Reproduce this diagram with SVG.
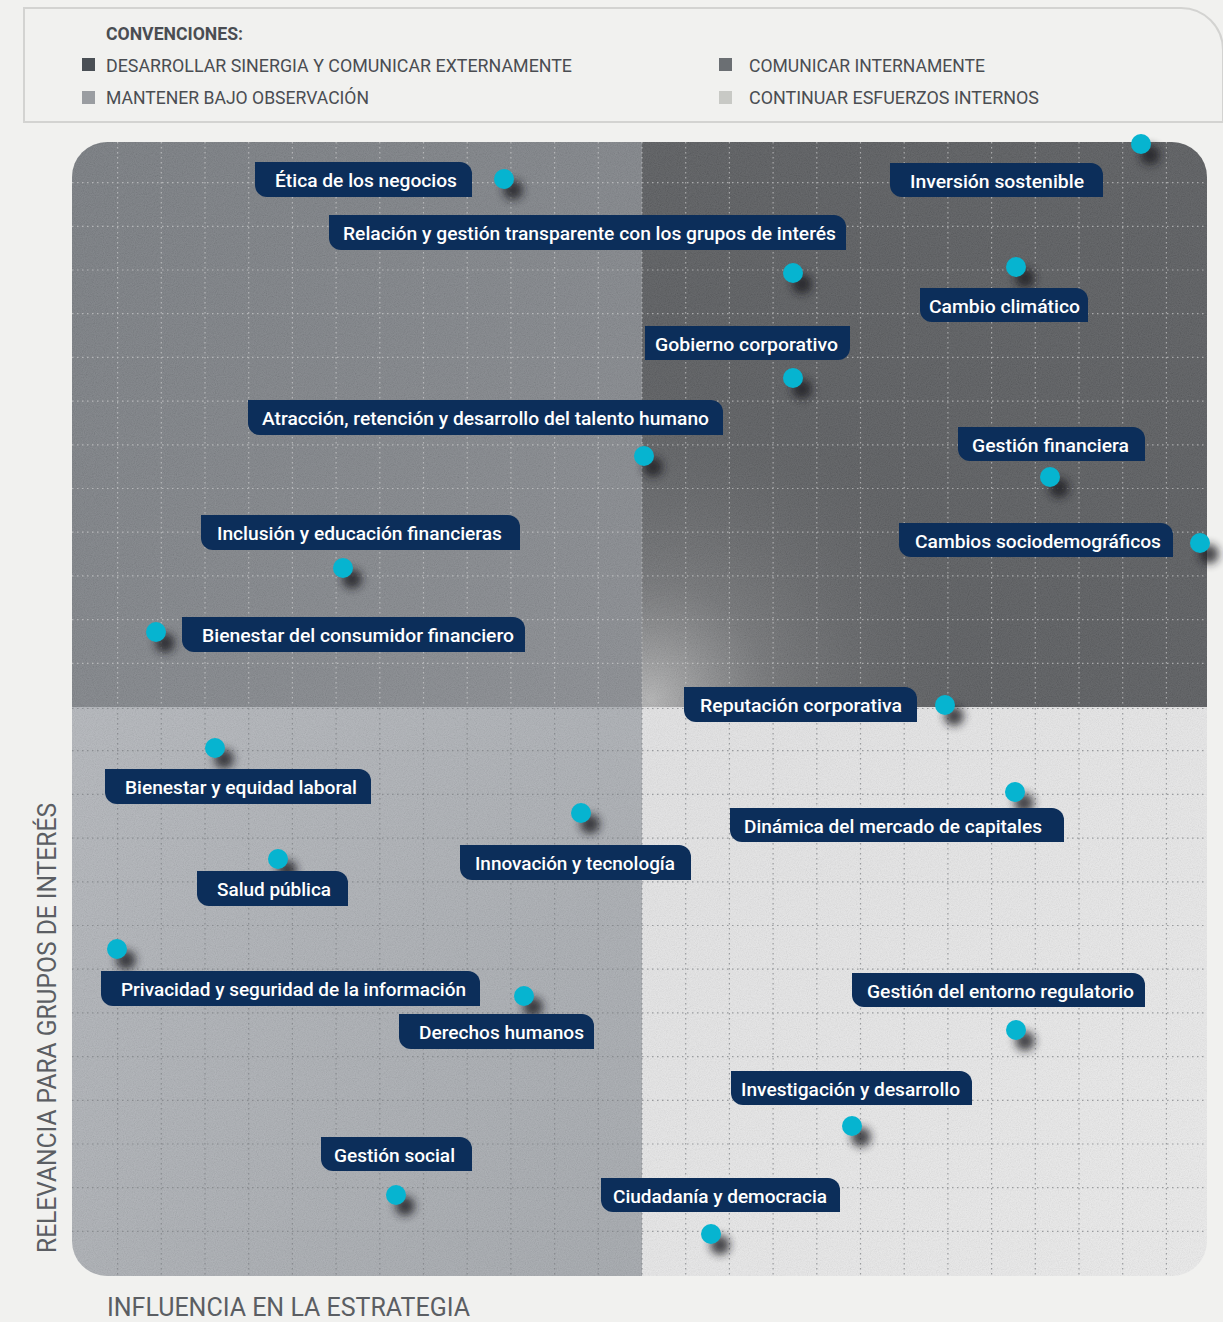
<svg xmlns="http://www.w3.org/2000/svg" width="1223" height="1322" viewBox="0 0 1223 1322">
<style>
.leg{font-family:Roboto,"Liberation Sans",sans-serif;font-size:18px;fill:#4a4d52;}
.legb{font-weight:700;}
.lbl{fill:#0c2e5a;}
.lt{font-family:Roboto,"Liberation Sans",sans-serif;font-size:18px;font-weight:500;fill:#ffffff;}
.dot{fill:#06b4d0;}
.sh{fill:#1e1f22;opacity:0.8;filter:url(#blur);}
.axis{font-family:Roboto,"Liberation Sans",sans-serif;font-size:26px;fill:#5b5e63;}
.gl{fill:none;stroke:#d8d8d8;stroke-width:1.2;stroke-dasharray:1.5 3.5;opacity:0.6;}
.gd{fill:none;stroke:#7a7d82;stroke-width:1.2;stroke-dasharray:1.5 3.5;opacity:0.7;}
</style>
<defs>
<filter id="blur" x="-100%" y="-100%" width="300%" height="300%"><feGaussianBlur stdDeviation="4"/></filter>
<filter id="noise" x="0" y="0" width="100%" height="100%">
<feTurbulence type="fractalNoise" baseFrequency="0.9" numOctaves="2" stitchTiles="stitch"/>
<feColorMatrix type="matrix" values="1 0 0 0 0  1 0 0 0 0  1 0 0 0 0  0 0 0 0 0.12"/>
</filter>
<clipPath id="chart"><rect x="72" y="142" width="1135" height="1134" rx="35"/></clipPath>
<linearGradient id="gTL" x1="0" y1="0" x2="1" y2="1"><stop offset="0" stop-color="#74787d"/><stop offset="1" stop-color="#878a8f"/></linearGradient>
<linearGradient id="gBL" x1="0" y1="0" x2="1" y2="1"><stop offset="0" stop-color="#b2b5ba"/><stop offset="1" stop-color="#a2a6ab"/></linearGradient>
<linearGradient id="gBR" x1="0" y1="0" x2="1" y2="1"><stop offset="0" stop-color="#e2e2e3"/><stop offset="1" stop-color="#ebebeb"/></linearGradient>
<radialGradient id="glow" cx="650" cy="700" r="340" gradientUnits="userSpaceOnUse"><stop offset="0" stop-color="#c2c2c2" stop-opacity="0.85"/><stop offset="0.35" stop-color="#8e8f91" stop-opacity="0.45"/><stop offset="1" stop-color="#55575a" stop-opacity="0"/></radialGradient>
</defs>
<rect x="0" y="0" width="1223" height="1322" fill="#f1f1ef"/>

<g id="legend">
<path d="M24 8 H1181 A42 42 0 0 1 1223 50 V122 H24 Z" fill="#f1f1ef" stroke="#d3d3d1" stroke-width="2"/>
<text class="leg legb" x="106" y="40" textLength="137" lengthAdjust="spacingAndGlyphs">CONVENCIONES:</text>
<rect x="82" y="58" width="13" height="13" fill="#4a4f55"/>
<text class="leg" x="106" y="72" textLength="466" lengthAdjust="spacingAndGlyphs">DESARROLLAR SINERGIA Y COMUNICAR EXTERNAMENTE</text>
<rect x="82" y="91" width="13" height="13" fill="#9a9da1"/>
<text class="leg" x="106" y="104" textLength="263" lengthAdjust="spacingAndGlyphs">MANTENER BAJO OBSERVACIÓN</text>
<rect x="719" y="58" width="13" height="13" fill="#6b6f73"/>
<text class="leg" x="749" y="72" textLength="236" lengthAdjust="spacingAndGlyphs">COMUNICAR INTERNAMENTE</text>
<rect x="719" y="91" width="13" height="13" fill="#c8c9c5"/>
<text class="leg" x="749" y="104" textLength="290" lengthAdjust="spacingAndGlyphs">CONTINUAR ESFUERZOS INTERNOS</text>
</g>

<g id="chart-bg" clip-path="url(#chart)">
<rect x="72" y="142" width="570" height="565" fill="url(#gTL)"/>
<rect x="642" y="142" width="565" height="565" fill="#56585b"/>
<rect x="642" y="142" width="565" height="565" fill="url(#glow)"/>
<rect x="72" y="707" width="570" height="569" fill="url(#gBL)"/>
<rect x="642" y="707" width="565" height="569" fill="url(#gBR)"/>
<rect x="72" y="142" width="1135" height="1134" filter="url(#noise)"/>
<path class="gl" d="M117.6 142V707M161.3 142V707M205 142V707M248.7 142V707M292.4 142V707M336.1 142V707M379.8 142V707M423.5 142V707M467.2 142V707M510.9 142V707M554.6 142V707M598.3 142V707M642 142V707M685.7 142V707M729.4 142V707M773.1 142V707M816.8 142V707M860.5 142V707M904.2 142V707M947.9 142V707M991.6 142V707M1035.3 142V707M1079 142V707M1122.7 142V707M1166.4 142V707M72 182.6H1207M72 226.3H1207M72 270H1207M72 313.7H1207M72 357.4H1207M72 401.1H1207M72 444.8H1207M72 488.5H1207M72 532.2H1207M72 575.9H1207M72 619.6H1207M72 663.3H1207"/>
<path class="gd" d="M117.6 708V1276M161.3 708V1276M205 708V1276M248.7 708V1276M292.4 708V1276M336.1 708V1276M379.8 708V1276M423.5 708V1276M467.2 708V1276M510.9 708V1276M554.6 708V1276M598.3 708V1276M642 708V1276M685.7 708V1276M729.4 708V1276M773.1 708V1276M816.8 708V1276M860.5 708V1276M904.2 708V1276M947.9 708V1276M991.6 708V1276M1035.3 708V1276M1079 708V1276M1122.7 708V1276M1166.4 708V1276M72 708.5H1207M72 750.7H1207M72 794.4H1207M72 838.1H1207M72 881.8H1207M72 925.5H1207M72 969.2H1207M72 1012.9H1207M72 1056.6H1207M72 1100.3H1207M72 1144H1207M72 1187.7H1207M72 1231.4H1207"/>
</g>

<g id="axes">
<text class="axis" x="107" y="1316" textLength="363" lengthAdjust="spacingAndGlyphs">INFLUENCIA  EN LA ESTRATEGIA</text>
<text class="axis" transform="translate(56 1253) rotate(-90)" x="0" y="0" textLength="450" lengthAdjust="spacingAndGlyphs">RELEVANCIA PARA GRUPOS DE INTERÉS</text>
</g>

<g id="connectors"></g>

<g id="nodes">
<g id="n01"><circle class="sh" cx="513" cy="190" r="10"/><path class="lbl" d="M255 162H460A12 12 0 0 1 472 174V197H267A12 12 0 0 1 255 185Z"/><circle class="dot" cx="504" cy="179" r="10"/><text class="lt" x="275" y="187" textLength="182" lengthAdjust="spacingAndGlyphs">Ética de los negocios</text></g>
<g id="n02"><circle class="sh" cx="802" cy="284" r="10"/><path class="lbl" d="M329 215H834A12 12 0 0 1 846 227V250H341A12 12 0 0 1 329 238Z"/><circle class="dot" cx="793" cy="273" r="10"/><text class="lt" x="343" y="240" textLength="493" lengthAdjust="spacingAndGlyphs">Relación y gestión transparente con los grupos de interés</text></g>
<g id="n03"><circle class="sh" cx="1150" cy="155" r="10"/><path class="lbl" d="M890 163H1091A12 12 0 0 1 1103 175V197H902A12 12 0 0 1 890 185Z"/><circle class="dot" cx="1141" cy="144" r="10"/><text class="lt" x="910" y="188" textLength="174" lengthAdjust="spacingAndGlyphs">Inversión sostenible</text></g>
<g id="n04"><circle class="sh" cx="1025" cy="278" r="10"/><path class="lbl" d="M920 288H1076A12 12 0 0 1 1088 300V322H932A12 12 0 0 1 920 310Z"/><circle class="dot" cx="1016" cy="267" r="10"/><text class="lt" x="929" y="313" textLength="151" lengthAdjust="spacingAndGlyphs">Cambio climático</text></g>
<g id="n05"><circle class="sh" cx="802" cy="389" r="10"/><path class="lbl" d="M645 326H850V348A12 12 0 0 1 838 360H645Z"/><circle class="dot" cx="793" cy="378" r="10"/><text class="lt" x="655" y="351" textLength="183" lengthAdjust="spacingAndGlyphs">Gobierno corporativo</text></g>
<g id="n06"><circle class="sh" cx="653" cy="467" r="10"/><path class="lbl" d="M248 400H711A12 12 0 0 1 723 412V435H260A12 12 0 0 1 248 423Z"/><circle class="dot" cx="644" cy="456" r="10"/><text class="lt" x="262" y="425" textLength="447" lengthAdjust="spacingAndGlyphs">Atracción, retención y desarrollo del talento humano</text></g>
<g id="n07"><circle class="sh" cx="1059" cy="488" r="10"/><path class="lbl" d="M958 427H1133A12 12 0 0 1 1145 439V461H970A12 12 0 0 1 958 449Z"/><circle class="dot" cx="1050" cy="477" r="10"/><text class="lt" x="972" y="452" textLength="157" lengthAdjust="spacingAndGlyphs">Gestión financiera</text></g>
<g id="n08"><circle class="sh" cx="352" cy="579" r="10"/><path class="lbl" d="M201 515H508A12 12 0 0 1 520 527V550H213A12 12 0 0 1 201 538Z"/><circle class="dot" cx="343" cy="568" r="10"/><text class="lt" x="217" y="540" textLength="285" lengthAdjust="spacingAndGlyphs">Inclusión y educación financieras</text></g>
<g id="n09"><circle class="sh" cx="1209" cy="554" r="10"/><path class="lbl" d="M899 523H1161A12 12 0 0 1 1173 535V557H911A12 12 0 0 1 899 545Z"/><circle class="dot" cx="1200" cy="543" r="10"/><text class="lt" x="915" y="548" textLength="246" lengthAdjust="spacingAndGlyphs">Cambios sociodemográficos</text></g>
<g id="n10"><circle class="sh" cx="165" cy="643" r="10"/><path class="lbl" d="M182 617H513A12 12 0 0 1 525 629V652H194A12 12 0 0 1 182 640Z"/><circle class="dot" cx="156" cy="632" r="10"/><text class="lt" x="202" y="642" textLength="312" lengthAdjust="spacingAndGlyphs">Bienestar del consumidor financiero</text></g>
<g id="n11"><circle class="sh" cx="954" cy="716" r="10"/><path class="lbl" d="M684 687H905A12 12 0 0 1 917 699V722H696A12 12 0 0 1 684 710Z"/><circle class="dot" cx="945" cy="705" r="10"/><text class="lt" x="700" y="712" textLength="202" lengthAdjust="spacingAndGlyphs">Reputación corporativa</text></g>
<g id="n12"><circle class="sh" cx="224" cy="759" r="10"/><path class="lbl" d="M105 769H359A12 12 0 0 1 371 781V804H117A12 12 0 0 1 105 792Z"/><circle class="dot" cx="215" cy="748" r="10"/><text class="lt" x="125" y="794" textLength="232" lengthAdjust="spacingAndGlyphs">Bienestar y equidad laboral</text></g>
<g id="n13"><circle class="sh" cx="590" cy="824" r="10"/><path class="lbl" d="M460 845H679A12 12 0 0 1 691 857V880H472A12 12 0 0 1 460 868Z"/><circle class="dot" cx="581" cy="813" r="10"/><text class="lt" x="475" y="870" textLength="200" lengthAdjust="spacingAndGlyphs">Innovación y tecnología</text></g>
<g id="n14"><circle class="sh" cx="1024" cy="803" r="10"/><path class="lbl" d="M730 808H1052A12 12 0 0 1 1064 820V842H742A12 12 0 0 1 730 830Z"/><circle class="dot" cx="1015" cy="792" r="10"/><text class="lt" x="744" y="833" textLength="298" lengthAdjust="spacingAndGlyphs">Dinámica del mercado de capitales</text></g>
<g id="n15"><circle class="sh" cx="287" cy="870" r="10"/><path class="lbl" d="M197 871H336A12 12 0 0 1 348 883V906H209A12 12 0 0 1 197 894Z"/><circle class="dot" cx="278" cy="859" r="10"/><text class="lt" x="217" y="896" textLength="114" lengthAdjust="spacingAndGlyphs">Salud pública</text></g>
<g id="n16"><circle class="sh" cx="126" cy="960" r="10"/><path class="lbl" d="M101 971H468A12 12 0 0 1 480 983V1006H113A12 12 0 0 1 101 994Z"/><circle class="dot" cx="117" cy="949" r="10"/><text class="lt" x="121" y="996" textLength="345" lengthAdjust="spacingAndGlyphs">Privacidad y seguridad de la información</text></g>
<g id="n17"><circle class="sh" cx="533" cy="1007" r="10"/><path class="lbl" d="M399 1014H582A12 12 0 0 1 594 1026V1049H411A12 12 0 0 1 399 1037Z"/><circle class="dot" cx="524" cy="996" r="10"/><text class="lt" x="419" y="1039" textLength="165" lengthAdjust="spacingAndGlyphs">Derechos humanos</text></g>
<g id="n18"><circle class="sh" cx="1025" cy="1041" r="10"/><path class="lbl" d="M852 973H1133A12 12 0 0 1 1145 985V1007H864A12 12 0 0 1 852 995Z"/><circle class="dot" cx="1016" cy="1030" r="10"/><text class="lt" x="867" y="998" textLength="267" lengthAdjust="spacingAndGlyphs">Gestión del entorno regulatorio</text></g>
<g id="n19"><circle class="sh" cx="861" cy="1137" r="10"/><path class="lbl" d="M731 1071H960A12 12 0 0 1 972 1083V1105H743A12 12 0 0 1 731 1093Z"/><circle class="dot" cx="852" cy="1126" r="10"/><text class="lt" x="741" y="1096" textLength="219" lengthAdjust="spacingAndGlyphs">Investigación y desarrollo</text></g>
<g id="n20"><circle class="sh" cx="405" cy="1206" r="10"/><path class="lbl" d="M321 1137H460A12 12 0 0 1 472 1149V1171H333A12 12 0 0 1 321 1159Z"/><circle class="dot" cx="396" cy="1195" r="10"/><text class="lt" x="334" y="1162" textLength="121" lengthAdjust="spacingAndGlyphs">Gestión social</text></g>
<g id="n21"><circle class="sh" cx="720" cy="1245" r="10"/><path class="lbl" d="M601 1178H828A12 12 0 0 1 840 1190V1212H613A12 12 0 0 1 601 1200Z"/><circle class="dot" cx="711" cy="1234" r="10"/><text class="lt" x="613" y="1203" textLength="214" lengthAdjust="spacingAndGlyphs">Ciudadanía y democracia</text></g>
</g>
</svg>
